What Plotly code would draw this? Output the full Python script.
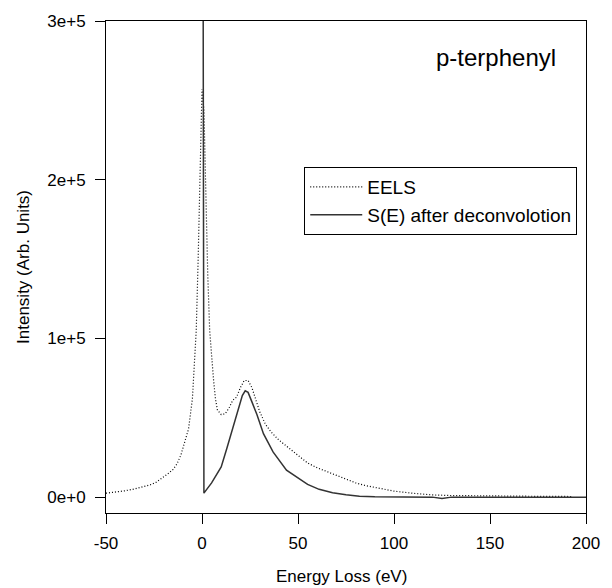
import plotly.graph_objects as go

# EELS (dotted)
eels_x = [-50, -45, -40, -35, -30, -27, -24, -21, -18, -15, -13, -11, -9, -7, -5, -4, -3, -2, -1, 0,
          1, 2, 3, 4, 5, 6, 7, 8, 10, 12, 14, 16, 18, 20, 22, 24, 26, 28, 30, 33, 36, 40, 45, 50,
          55, 60, 65, 70, 75, 80, 85, 90, 95, 100, 110, 120, 130, 140, 150, 160, 170, 180, 193]
eels_y = [2500, 3200, 4000, 5200, 6500, 7700, 9300, 11800, 14500, 17500, 21000, 26500, 34000, 43000,
          62000, 80000, 105000, 150000, 205000, 257000,
          244000, 190000, 140000, 105000, 88000, 74000, 62000, 55000, 52000, 52500, 56000, 61000,
          63000, 69000, 73500, 73500, 69000, 62000, 54000, 46000, 41000, 36000, 31000, 26000,
          21500, 18500, 16000, 13500, 11000, 9000, 7300, 6000, 4800, 3800, 2400, 1400, 1000, 800,
          650, 550, 500, 450, 400]

# S(E) after deconvolution (solid)
se_x = [0.5, 1, 5, 10, 13, 16, 19, 21, 22.5, 24, 26, 28.6, 32, 37, 44, 50, 55, 61, 68, 75, 82,
        90, 100, 120, 125, 130, 150, 200]
se_y = [400000, 2500, 9000, 19000, 31000, 44000, 57000, 64000, 67000, 66000, 60000, 52000, 40000,
        28500, 17000, 12000, 8000, 4900, 2700, 1500, 500, 200, 100, 0, -800, 0, 0, 0]

y_tickvals = [0, 100000, 200000, 300000]
y_ticktext = ["0e+0", "1e+5", "2e+5", "3e+5"]
x_tickvals = [-50, 0, 50, 100, 150, 200]
x_ticktext = ["-50", "0", "50", "100", "150", "200"]

FONT = "Liberation Sans, Arial, sans-serif"

fig = go.Figure()
fig.add_trace(go.Scatter(x=eels_x, y=eels_y, mode="lines", name="EELS",
                         line=dict(color="black", width=1.2, dash="1px,2px")))
fig.add_trace(go.Scatter(x=se_x, y=se_y, mode="lines", name="S(E) after deconvolotion",
                         line=dict(color="#333333", width=1.5)))

axis_common = dict(showline=True, linecolor="black", linewidth=1, mirror=True,
                   ticks="outside", ticklen=10, tickcolor="black", tickwidth=1,
                   showgrid=False, zeroline=False,
                   tickfont=dict(family=FONT, size=17, color="black"))

fig.update_layout(
    width=612, height=588,
    margin=dict(l=106, r=15, t=21, b=75),
    paper_bgcolor="white", plot_bgcolor="white",
    font=dict(family=FONT, color="black"),
    xaxis=dict(range=[-50, 200], tickvals=x_tickvals, ticktext=x_ticktext,
               ticklabelstandoff=5, **axis_common),
    yaxis=dict(range=[-10000, 300000], tickvals=y_tickvals, ticktext=y_ticktext,
               ticklabelstandoff=6, **axis_common),
    showlegend=True,
    legend=dict(x=0.413, y=0.703, xanchor="left", yanchor="top",
                bgcolor="white", bordercolor="black", borderwidth=1,
                font=dict(family=FONT, size=19, color="black"),
                tracegroupgap=0, itemwidth=52),
    annotations=[
        dict(text="p-terphenyl", xref="paper", yref="paper", x=0.942, y=0.925,
             xanchor="right", yanchor="middle", showarrow=False,
             font=dict(family=FONT, size=24, color="black")),
        dict(text="Energy Loss (eV)", xref="paper", yref="paper", x=0.49, y=-0.13,
             xanchor="center", yanchor="middle", showarrow=False,
             font=dict(family=FONT, size=17, color="black")),
        dict(text="Intensity (Arb. Units)", xref="paper", yref="paper", x=-0.173, y=0.5,
             xanchor="center", yanchor="middle", showarrow=False, textangle=-90,
             font=dict(family=FONT, size=17, color="black")),
    ],
)

fig.write_html("out.html", config={"displayModeBar": False},
               post_script="document.body.style.margin='0';document.body.style.padding='0';")
